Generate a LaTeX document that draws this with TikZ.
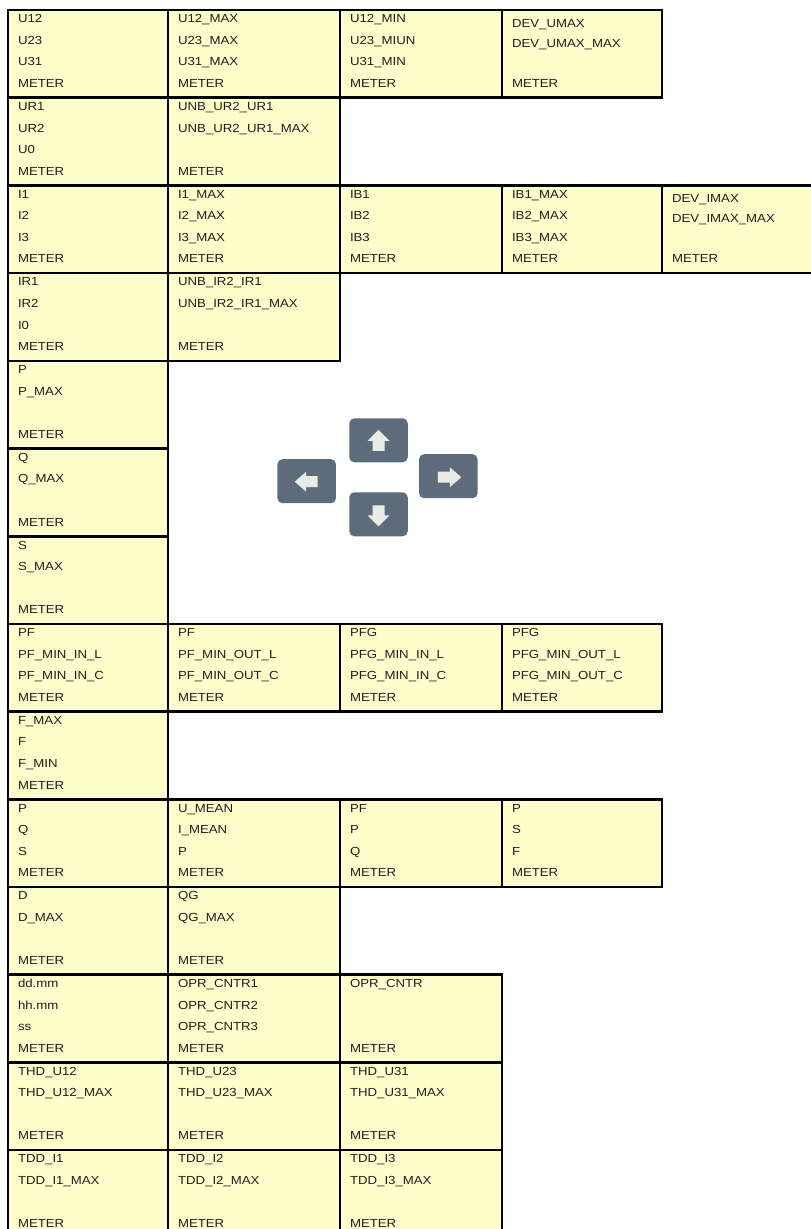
\documentclass[tikz,border=0pt]{standalone}
\usepackage{fontspec}
\setmainfont{Liberation Sans}[FakeStretch=1.13]
\usetikzlibrary{calc}
\definecolor{cellfill}{HTML}{FFFFCC}
\definecolor{txtcol}{HTML}{1E1E1E}
\definecolor{btnfill}{HTML}{5E6B7B}
\definecolor{arrfill}{HTML}{E9EBE6}
\tikzset{
  cellstyle/.style={rectangle, draw=black, fill=cellfill, line width=2.6pt, inner sep=0pt, outer sep=0pt},
  txt/.style={anchor=base west, inner sep=0pt, outer sep=0pt, text=txtcol, font=\fontsize{11.7}{14}\selectfont},
  btn/.style={rectangle, rounded corners=5pt, fill=btnfill, minimum width=58.5pt, minimum height=44pt, inner sep=0pt, outer sep=0pt},
  arr/.style={fill=arrfill}
}
% #1 first-line offset, #2 name, #3 x0, #4 x1, #5 row, #6-#9 lines
\newcommand\cellbox[9][12.8]{%
  \pgfmathsetmacro\cw{#4-#3}%
  \pgfmathsetmacro\ct{10+87.7*(#5-1)}%
  \pgfmathsetmacro\lsp{(77.5-#1)/3}%
  \node[cellstyle, minimum width=\cw pt, minimum height=87.7pt, anchor=north west] (#2) at (#3,\ct) {};
  \if\relax\detokenize{#6}\relax\else
    \node[txt] (#2-a) at ([xshift=10pt,yshift={-#1pt}]#2.north west) {#6};\fi
  \if\relax\detokenize{#7}\relax\else
    \node[txt] (#2-b) at ([xshift=10pt,yshift={-(#1+\lsp)*1pt}]#2.north west) {#7};\fi
  \if\relax\detokenize{#8}\relax\else
    \node[txt] (#2-c) at ([xshift=10pt,yshift={-(#1+2*\lsp)*1pt}]#2.north west) {#8};\fi
  \if\relax\detokenize{#9}\relax\else
    \node[txt] (#2-d) at ([xshift=10pt,yshift={-(#1+3*\lsp)*1pt}]#2.north west) {#9};\fi
}
\begin{document}
\begin{tikzpicture}[x=1pt,y=-1pt]
\useasboundingbox (0,0) rectangle (811,1229);
\clip (0,0) rectangle (811,1229);
% row 1
\cellbox{r1a}{8}{168}{1}{U12}{U23}{U31}{METER}
\cellbox{r1b}{168}{340}{1}{U12\_MAX}{U23\_MAX}{U31\_MAX}{METER}
\cellbox{r1c}{340}{502}{1}{U12\_MIN}{U23\_MIUN}{U31\_MIN}{METER}
\cellbox[17]{r1d}{502}{662}{1}{DEV\_UMAX}{DEV\_UMAX\_MAX}{}{METER}
% row 2
\cellbox{r2a}{8}{168}{2}{UR1}{UR2}{U0}{METER}
\cellbox{r2b}{168}{340}{2}{UNB\_UR2\_UR1}{UNB\_UR2\_UR1\_MAX}{}{METER}
% row 3
\cellbox{r3a}{8}{168}{3}{I1}{I2}{I3}{METER}
\cellbox{r3b}{168}{340}{3}{I1\_MAX}{I2\_MAX}{I3\_MAX}{METER}
\cellbox{r3c}{340}{502}{3}{IB1}{IB2}{IB3}{METER}
\cellbox{r3d}{502}{662}{3}{IB1\_MAX}{IB2\_MAX}{IB3\_MAX}{METER}
\cellbox[17]{r3e}{662}{824}{3}{DEV\_IMAX}{DEV\_IMAX\_MAX}{}{METER}
% row 4
\cellbox{r4a}{8}{168}{4}{IR1}{IR2}{I0}{METER}
\cellbox{r4b}{168}{340}{4}{UNB\_IR2\_IR1}{UNB\_IR2\_IR1\_MAX}{}{METER}
% rows 5-7
\cellbox{r5a}{8}{168}{5}{P}{P\_MAX}{}{METER}
\cellbox{r6a}{8}{168}{6}{Q}{Q\_MAX}{}{METER}
\cellbox{r7a}{8}{168}{7}{S}{S\_MAX}{}{METER}
% row 8
\cellbox{r8a}{8}{168}{8}{PF}{PF\_MIN\_IN\_L}{PF\_MIN\_IN\_C}{METER}
\cellbox{r8b}{168}{340}{8}{PF}{PF\_MIN\_OUT\_L}{PF\_MIN\_OUT\_C}{METER}
\cellbox{r8c}{340}{502}{8}{PFG}{PFG\_MIN\_IN\_L}{PFG\_MIN\_IN\_C}{METER}
\cellbox{r8d}{502}{662}{8}{PFG}{PFG\_MIN\_OUT\_L}{PFG\_MIN\_OUT\_C}{METER}
% row 9
\cellbox{r9a}{8}{168}{9}{F\_MAX}{F}{F\_MIN}{METER}
% row 10
\cellbox{r10a}{8}{168}{10}{P}{Q}{S}{METER}
\cellbox{r10b}{168}{340}{10}{U\_MEAN}{I\_MEAN}{P}{METER}
\cellbox{r10c}{340}{502}{10}{PF}{P}{Q}{METER}
\cellbox{r10d}{502}{662}{10}{P}{S}{F}{METER}
% row 11
\cellbox{r11a}{8}{168}{11}{D}{D\_MAX}{}{METER}
\cellbox{r11b}{168}{340}{11}{QG}{QG\_MAX}{}{METER}
% row 12
\cellbox{r12a}{8}{168}{12}{dd.mm}{hh.mm}{ss}{METER}
\cellbox{r12b}{168}{340}{12}{OPR\_CNTR1}{OPR\_CNTR2}{OPR\_CNTR3}{METER}
\cellbox{r12c}{340}{502}{12}{OPR\_CNTR}{}{}{METER}
% row 13
\cellbox{r13a}{8}{168}{13}{THD\_U12}{THD\_U12\_MAX}{}{METER}
\cellbox{r13b}{168}{340}{13}{THD\_U23}{THD\_U23\_MAX}{}{METER}
\cellbox{r13c}{340}{502}{13}{THD\_U31}{THD\_U31\_MAX}{}{METER}
% row 14
\cellbox{r14a}{8}{168}{14}{TDD\_I1}{TDD\_I1\_MAX}{}{METER}
\cellbox{r14b}{168}{340}{14}{TDD\_I2}{TDD\_I2\_MAX}{}{METER}
\cellbox{r14c}{340}{502}{14}{TDD\_I3}{TDD\_I3\_MAX}{}{METER}
% navigation buttons
\node[btn] (up) at (378.5,440.3) {};
\node[btn] (left) at (306.7,481.2) {};
\node[btn] (right) at (448.3,476.2) {};
\node[btn] (down) at (378.5,514.3) {};
\begin{scope}[shift={(up.center)}]
  \fill[arr] (0,-10.5) -- (11,0.5) -- (6,0.5) -- (6,10.5) -- (-6,10.5) -- (-6,0.5) -- (-11,0.5) -- cycle;
\end{scope}
\begin{scope}[shift={(down.center)}]
  \fill[arr] (0,12) -- (11,1) -- (6,1) -- (6,-9) -- (-6,-9) -- (-6,1) -- (-11,1) -- cycle;
\end{scope}
\begin{scope}[shift={(left.center)}]
  \fill[arr] (-12,0.5) -- (-0.5,-9.5) -- (-0.5,-5) -- (11,-5) -- (11,6) -- (-0.5,6) -- (-0.5,10.5) -- cycle;
\end{scope}
\begin{scope}[shift={(right.center)}]
  \fill[arr] (13,1) -- (1.5,-9) -- (1.5,-4.5) -- (-10.5,-4.5) -- (-10.5,6.5) -- (1.5,6.5) -- (1.5,11) -- cycle;
\end{scope}
\end{tikzpicture}
\end{document}
